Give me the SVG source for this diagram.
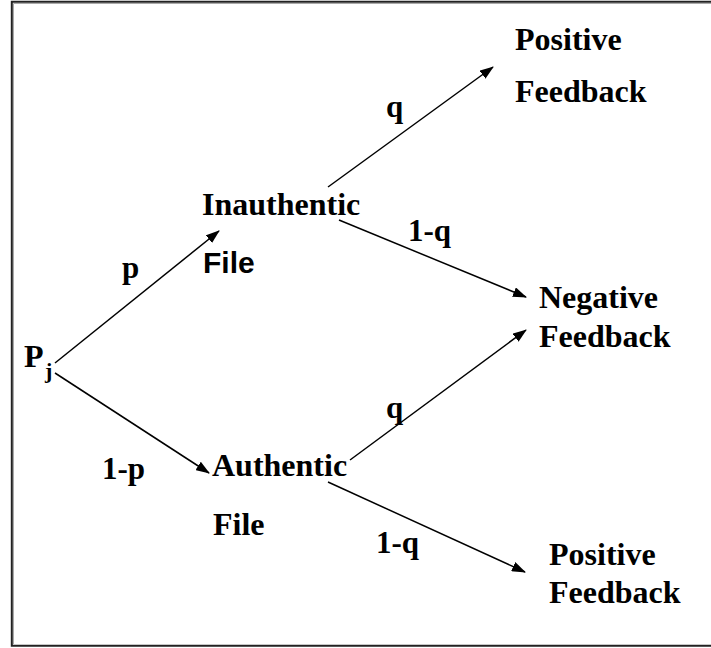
<svg xmlns="http://www.w3.org/2000/svg" width="711" height="648" viewBox="0 0 711 648">
  <style>
    .serif { font-family: "Liberation Serif", "Times New Roman", serif; font-weight: bold; fill: #000; }
    .sans { font-family: "Liberation Sans", Arial, sans-serif; font-weight: bold; fill: #000; }
    .n { font-size: 32px; }
    .lbl { font-size: 31px; }
    .edge { stroke: #000; stroke-width: 1.5; fill: none; marker-end: url(#arrow); }
  </style>
  <defs>
    <marker id="arrow" markerUnits="userSpaceOnUse" markerWidth="14" markerHeight="10" refX="13" refY="5" orient="auto">
      <path d="M0,0 L14,5 L0,10 Z" fill="#000"/>
    </marker>
  </defs>
  <rect width="711" height="648" fill="#fff"/>
  <!-- frame: left, top and bottom rules -->
  <path d="M713,1.8 H11.8 V645.8 H713" fill="none" stroke="#222" stroke-width="2"/>
  <path d="M713,3.5 H13.5 V644" fill="none" stroke="#aaa" stroke-width="1"/>

  <g id="connectors">
    <line class="edge" x1="55" y1="363" x2="219" y2="231"/>
    <line class="edge" x1="55" y1="373" x2="209" y2="473"/>
    <line class="edge" x1="328" y1="187" x2="493" y2="67"/>
    <line class="edge" x1="339" y1="220" x2="526" y2="297"/>
    <line class="edge" x1="350" y1="460" x2="526" y2="330"/>
    <line class="edge" x1="328" y1="482" x2="525" y2="572"/>
  </g>

  <g id="edge-labels">
    <text class="serif lbl" x="122" y="278">p</text>
    <text class="serif lbl" x="102" y="479">1-p</text>
    <text class="serif lbl" x="386" y="117">q</text>
    <text class="serif lbl" x="408" y="241">1-q</text>
    <text class="serif lbl" x="386" y="418">q</text>
    <text class="serif lbl" x="376" y="553">1-q</text>
  </g>

  <g id="node-pj">
    <text class="serif n" x="24" y="367">P</text>
    <text class="serif" font-size="22" x="45" y="378">j</text>
  </g>
  <g id="node-inauthentic">
    <text class="serif n" x="202" y="215">Inauthentic</text>
    <text class="sans" font-size="30" x="203" y="273">File</text>
  </g>
  <g id="node-authentic">
    <text class="serif n" x="212" y="476">Authentic</text>
    <text class="serif n" x="213" y="535">File</text>
  </g>
  <g id="node-positive-top">
    <text class="serif n" x="515" y="50">Positive</text>
    <text class="serif n" x="515" y="102">Feedback</text>
  </g>
  <g id="node-negative">
    <text class="serif n" x="539" y="308">Negative</text>
    <text class="serif n" x="539" y="347">Feedback</text>
  </g>
  <g id="node-positive-bottom">
    <text class="serif n" x="549" y="565">Positive</text>
    <text class="serif n" x="549" y="603">Feedback</text>
  </g>
</svg>
